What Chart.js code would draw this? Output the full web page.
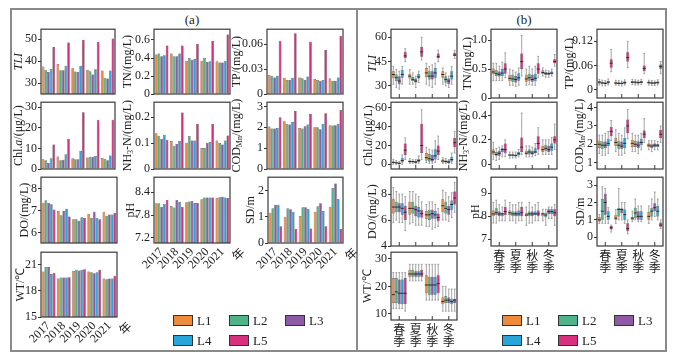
<!DOCTYPE html>
<html>
<head>
<meta charset="utf-8">
<script src="https://cdn.jsdelivr.net/npm/chart.js@4.4.0/dist/chart.umd.min.js"></script>
<style>
  body { margin:0; width:675px; height:361px; position:relative; overflow:hidden; background:#fff; font-family:"Liberation Serif", serif; color:#222; }
  canvas { position:absolute; }
  .outer { position:absolute; left:10px; top:8px; width:657px; height:344px; box-sizing:border-box; border:2px solid #8a8a8a; }
  .divider { position:absolute; left:356px; top:8px; width:2px; height:344px; background:#8a8a8a; }
  .ptitle { position:absolute; font-size:13px; color:#222; transform:translateX(-50%); }
  .sw { position:absolute; width:20px; height:11px; box-sizing:border-box; border:1px solid #333; }
  .lt { position:absolute; font-size:13px; line-height:13px; color:#222; }
</style>
</head>
<body>
<div class="outer"></div>
<div class="divider"></div>
<div class="ptitle" style="left:192px;top:12px">(a)</div>
<div class="ptitle" style="left:524px;top:12px">(b)</div>
<script>
// categories and series
const years = ['2017', '2018', '2019', '2020', '2021'];
const seasons = [['春', '季'], ['夏', '季'], ['秋', '季'], ['冬', '季']];
const locs = ['L1', 'L2', 'L3', 'L4', 'L5'];
const colors = ['#EE8A3C', '#4FB38A', '#8E5AA5', '#2AA5DB', '#D6307F'];

// (a) yearly means, one row per site (L1..L5), one value per year
const tliA = [[37.5, 38.7, 36.7, 36.0, 35.7], [36.0, 35.8, 35.2, 35.4, 32.4], [35.0, 35.8, 35.0, 33.9, 32.1], [36.4, 37.9, 37.9, 36.3, 35.7], [46.4, 48.4, 49.7, 48.7, 50.3]];
const tnA = [[0.44, 0.45, 0.37, 0.37, 0.365], [0.45, 0.42, 0.40, 0.40, 0.35], [0.42, 0.42, 0.38, 0.355, 0.35], [0.43, 0.45, 0.39, 0.365, 0.37], [0.54, 0.54, 0.555, 0.59, 0.66]];
const tpA = [[0.023, 0.0196, 0.020, 0.018, 0.019], [0.022, 0.017, 0.019, 0.017, 0.016], [0.020, 0.017, 0.017, 0.016, 0.016], [0.022, 0.0196, 0.021, 0.017, 0.020], [0.064, 0.073, 0.063, 0.053, 0.070]];
const chlA = [[4.7, 6.1, 5.2, 5.6, 5.3], [4.2, 4.2, 4.7, 6.0, 4.8], [2.9, 4.5, 4.7, 6.0, 4.2], [5.2, 7.1, 8.7, 6.3, 6.6], [11.9, 14.5, 27.5, 23.9, 23.9]];
const nh3A = [[0.138, 0.108, 0.101, 0.081, 0.110], [0.128, 0.090, 0.127, 0.081, 0.100], [0.117, 0.097, 0.110, 0.101, 0.095], [0.132, 0.108, 0.110, 0.104, 0.110], [0.113, 0.218, 0.174, 0.174, 0.129]];
const codA = [[2.03, 2.29, 1.97, 2.0, 2.1], [1.94, 2.16, 1.94, 2.0, 2.08], [1.94, 2.13, 2.05, 1.9, 2.1], [1.97, 2.25, 2.13, 2.16, 2.16], [2.48, 2.78, 2.63, 2.67, 2.83]];
const doA = [[7.35, 6.98, 6.62, 6.85, 6.95], [7.47, 6.79, 6.62, 6.68, 6.77], [7.35, 6.98, 6.55, 6.95, 6.83], [7.29, 7.08, 6.7, 6.67, 6.83], [7.05, 6.74, 6.67, 6.62, 6.9]];
const phA = [[8.11, 8.04, 8.14, 8.22, 8.25], [8.11, 8.0, 8.16, 8.26, 8.27], [8.02, 8.2, 8.17, 8.26, 8.28], [8.09, 8.15, 8.12, 8.26, 8.26], [8.2, 8.02, 8.12, 8.26, 8.25]];
const sdA = [[1.15, 1.0, 1.03, 1.19, 1.38], [1.32, 1.32, 1.36, 1.4, 2.09], [1.45, 1.28, 1.36, 1.51, 2.26], [1.45, 1.19, 1.29, 1.22, 1.67], [0.64, 0.53, 0.55, 0.64, 0.53]];
const wtA = [[20.2, 19.4, 20.24, 20.2, 19.4], [20.7, 19.5, 20.4, 20.1, 19.3], [20.7, 19.5, 20.3, 20.0, 19.4], [19.9, 19.5, 20.4, 20.1, 19.4], [20.05, 19.55, 20.45, 20.4, 19.7]];

// (b) seasonal box stats per site: [min, q1, median, q3, max] for spring..winter
const tliB = [
  [[31, 35, 37, 39, 42], [31, 34.5, 36, 37.5, 40], [31, 35.5, 38, 41, 44], [31, 35, 37, 39, 41]],
  [[29, 33, 35, 37, 40], [31, 33, 34, 35.5, 38], [30, 34, 36, 39, 42], [30, 32, 34, 36, 38]],
  [[28, 31, 33, 36, 39], [29, 32, 33, 34.5, 36], [29, 34, 36, 39, 43], [29, 31, 33, 34.5, 36]],
  [[31, 35, 37, 40, 42], [32, 34.5, 35.5, 37.5, 39], [31, 35, 38, 41, 44], [31, 34, 36, 39, 42]],
  [[45, 47, 48.5, 51, 53], [46, 48, 51, 54, 60], [45, 47, 48, 50, 52], [47, 48.5, 49, 50.5, 52]]];
const tnB = [
  [[0.3, 0.41, 0.45, 0.51, 0.6], [0.22, 0.29, 0.34, 0.4, 0.5], [0.22, 0.28, 0.33, 0.4, 0.5], [0.38, 0.42, 0.44, 0.48, 0.52]],
  [[0.3, 0.38, 0.42, 0.48, 0.6], [0.22, 0.28, 0.33, 0.4, 0.48], [0.23, 0.3, 0.35, 0.42, 0.55], [0.36, 0.4, 0.42, 0.45, 0.48]],
  [[0.3, 0.37, 0.41, 0.46, 0.55], [0.2, 0.27, 0.32, 0.38, 0.45], [0.22, 0.28, 0.32, 0.4, 0.5], [0.36, 0.4, 0.42, 0.44, 0.47]],
  [[0.3, 0.38, 0.43, 0.5, 0.62], [0.22, 0.3, 0.35, 0.43, 0.52], [0.22, 0.29, 0.34, 0.42, 0.55], [0.38, 0.41, 0.43, 0.46, 0.5]],
  [[0.35, 0.42, 0.5, 0.6, 0.78], [0.38, 0.5, 0.63, 0.77, 1.08], [0.35, 0.42, 0.5, 0.6, 0.72], [0.55, 0.6, 0.63, 0.67, 0.75]]];
const tpB = [
  [[0.012, 0.016, 0.019, 0.022, 0.026], [0.012, 0.015, 0.017, 0.02, 0.024], [0.013, 0.017, 0.019, 0.022, 0.026], [0.012, 0.016, 0.018, 0.021, 0.024]],
  [[0.01, 0.015, 0.017, 0.02, 0.024], [0.011, 0.014, 0.016, 0.019, 0.023], [0.012, 0.016, 0.019, 0.021, 0.025], [0.011, 0.015, 0.017, 0.02, 0.023]],
  [[0.01, 0.014, 0.016, 0.019, 0.023], [0.01, 0.014, 0.016, 0.018, 0.022], [0.012, 0.016, 0.018, 0.021, 0.024], [0.011, 0.015, 0.017, 0.019, 0.022]],
  [[0.012, 0.016, 0.019, 0.022, 0.027], [0.012, 0.015, 0.018, 0.021, 0.025], [0.013, 0.017, 0.019, 0.022, 0.026], [0.012, 0.016, 0.018, 0.021, 0.025]],
  [[0.045, 0.055, 0.066, 0.076, 0.1], [0.055, 0.07, 0.08, 0.093, 0.12], [0.04, 0.047, 0.053, 0.06, 0.09], [0.04, 0.052, 0.058, 0.063, 0.07]]];
const chlB = [
  [[0, 1, 2, 3, 5], [1, 2, 3, 4, 6], [2, 4, 7, 12, 18], [1, 2, 3.5, 5, 7]],
  [[0, 0.8, 1.5, 2.5, 4], [1, 2, 3, 3.5, 5], [1, 3, 6, 11, 16], [1, 2, 3, 4, 6]],
  [[0, 0.5, 1, 2, 3], [0.5, 1.5, 2.5, 3.5, 5], [1, 3, 5, 10, 15], [0.5, 1.5, 2.5, 4, 5]],
  [[0, 2, 4, 7, 10], [1, 2.5, 4, 6, 9], [2, 5, 9, 16, 25], [1, 3, 5, 8, 12]],
  [[5, 10, 15, 22, 28], [5, 12, 20, 43, 58], [5, 10, 14, 20, 30], [12, 18, 23, 28, 35]]];
const nh3B = [
  [[0.04, 0.08, 0.1, 0.12, 0.18], [0.05, 0.07, 0.075, 0.08, 0.1], [0.06, 0.08, 0.09, 0.11, 0.15], [0.08, 0.1, 0.12, 0.15, 0.2]],
  [[0.03, 0.07, 0.08, 0.1, 0.13], [0.05, 0.065, 0.075, 0.08, 0.1], [0.06, 0.08, 0.1, 0.12, 0.15], [0.08, 0.11, 0.13, 0.16, 0.2]],
  [[0.04, 0.07, 0.09, 0.11, 0.14], [0.05, 0.065, 0.07, 0.08, 0.1], [0.06, 0.08, 0.09, 0.11, 0.14], [0.08, 0.1, 0.12, 0.15, 0.2]],
  [[0.06, 0.1, 0.12, 0.13, 0.15], [0.06, 0.075, 0.085, 0.1, 0.12], [0.07, 0.09, 0.1, 0.13, 0.17], [0.08, 0.11, 0.14, 0.17, 0.22]],
  [[0.06, 0.09, 0.12, 0.17, 0.2], [0.08, 0.1, 0.14, 0.22, 0.42], [0.08, 0.12, 0.17, 0.23, 0.3], [0.12, 0.17, 0.2, 0.23, 0.33]]];
const codB = [
  [[1.5, 1.8, 2, 2.2, 2.5], [1.6, 1.9, 2.1, 2.35, 2.8], [1.6, 1.85, 2.05, 2.25, 2.6], [1.7, 1.85, 1.95, 2.05, 2.2]],
  [[1.4, 1.75, 1.95, 2.15, 2.5], [1.4, 1.75, 1.95, 2.2, 2.6], [1.6, 1.85, 2.0, 2.2, 2.5], [1.6, 1.8, 1.9, 2.0, 2.2]],
  [[1.4, 1.8, 1.95, 2.15, 2.6], [1.4, 1.75, 1.9, 2.15, 2.5], [1.5, 1.8, 1.95, 2.15, 2.5], [1.7, 1.85, 1.95, 2.05, 2.2]],
  [[1.5, 1.9, 2.05, 2.3, 2.7], [1.5, 1.8, 2.05, 2.35, 2.9], [1.7, 1.95, 2.1, 2.3, 2.6], [1.7, 1.85, 1.95, 2.0, 2.15]],
  [[2.2, 2.45, 2.7, 2.95, 3.3], [2.3, 2.6, 3.0, 3.35, 3.9], [2.1, 2.35, 2.55, 2.75, 3.4], [2.1, 2.35, 2.55, 2.8, 3.0]]];
const doB = [
  [[5.8, 6.5, 7.0, 7.6, 8.5], [5.7, 6.4, 6.9, 7.4, 8.2], [5.5, 6.1, 6.4, 6.7, 7.2], [6, 6.6, 7.1, 7.6, 8.3]],
  [[6, 6.6, 7.0, 7.4, 8.2], [5.8, 6.5, 6.9, 7.4, 8.2], [5.5, 6.0, 6.4, 6.8, 7.4], [6, 6.5, 6.9, 7.4, 8.1]],
  [[5.8, 6.6, 7.0, 7.3, 8], [5.6, 6.3, 6.8, 7.1, 8.0], [5.3, 6.1, 6.5, 6.8, 7.4], [5.9, 6.4, 6.8, 7.1, 7.8]],
  [[5.8, 6.4, 6.9, 7.3, 8], [5.6, 6.2, 6.7, 7.0, 7.8], [5.4, 6.1, 6.4, 6.7, 7.2], [6.2, 6.8, 7.2, 7.5, 8.1]],
  [[5.2, 6.0, 6.6, 7.1, 7.8], [5.6, 6.2, 6.5, 6.8, 7.4], [5.5, 5.9, 6.2, 6.5, 6.9], [6.6, 7.2, 7.7, 8.2, 8.9]]];
const phB = [
  [[7.7, 8.0, 8.1, 8.25, 8.6], [7.8, 8.05, 8.15, 8.25, 8.6], [7.6, 8.0, 8.05, 8.15, 8.4], [7.8, 8.0, 8.1, 8.15, 8.3]],
  [[7.7, 8.05, 8.15, 8.35, 8.7], [7.8, 8.0, 8.1, 8.2, 8.5], [7.7, 8.0, 8.1, 8.2, 8.6], [7.6, 7.95, 8.05, 8.15, 8.3]],
  [[7.8, 8.0, 8.1, 8.2, 8.5], [7.7, 8.0, 8.1, 8.2, 8.5], [7.7, 8.0, 8.1, 8.2, 8.4], [7.9, 8.1, 8.2, 8.3, 8.4]],
  [[7.8, 8.0, 8.1, 8.15, 8.4], [7.8, 8.0, 8.1, 8.25, 8.6], [7.8, 8.05, 8.1, 8.2, 8.5], [7.9, 8.1, 8.2, 8.3, 8.4]],
  [[7.8, 8.05, 8.2, 8.4, 8.7], [7.8, 8.0, 8.15, 8.4, 8.6], [7.8, 8.0, 8.1, 8.25, 8.6], [7.6, 8.0, 8.15, 8.3, 8.5]]];
const sdB = [
  [[0.8, 0.9, 1.0, 1.15, 1.3], [0.8, 1.0, 1.1, 1.3, 1.6], [0.9, 1.0, 1.1, 1.15, 1.5], [0.8, 1.0, 1.2, 1.45, 1.8]],
  [[0.8, 1.0, 1.5, 2.2, 2.9], [1.0, 1.2, 1.6, 1.7, 2.8], [1.0, 1.1, 1.4, 1.7, 2.2], [1.0, 1.2, 1.5, 1.7, 2.2]],
  [[0.8, 1.3, 2.0, 2.5, 2.8], [1.0, 1.4, 1.6, 1.65, 2.0], [0.9, 1.0, 1.2, 1.5, 1.8], [1.2, 1.5, 1.7, 1.95, 2.6]],
  [[0.8, 1.0, 1.2, 1.5, 1.7], [0.8, 1.0, 1.3, 1.6, 2.0], [0.9, 1.0, 1.2, 1.5, 1.8], [1.0, 1.2, 1.5, 1.8, 2.2]],
  [[0.3, 0.45, 0.55, 0.65, 0.7], [0.2, 0.35, 0.5, 0.8, 1.0], null, [0.5, 0.6, 0.7, 0.85, 1.0]]];
const wtB = [
  [[12, 14, 17, 23, 25], [22, 23.5, 24.5, 26, 28], [15, 17.5, 20.5, 24, 28], [11, 13.5, 14.5, 16, 20]],
  [[12, 14, 18, 23, 25], [22, 23.5, 24.5, 26, 28], [15, 17, 20.5, 23.5, 28], [11, 14, 15, 16.5, 20]],
  [[12, 13.5, 17.5, 22.5, 25], [22, 23.5, 24.5, 25.5, 28], [15, 17, 20.5, 23.5, 28], [11, 14, 15, 16, 19]],
  [[12, 13.5, 17.5, 22.5, 25], [22, 23.5, 24.5, 25.5, 28], [15, 17, 20.5, 23.5, 28], [11, 13.5, 14.5, 15.5, 19]],
  [[11, 13.5, 17.5, 23, 25], [22, 23.5, 24.5, 26, 28], [15, 17.5, 21, 24, 28], [11, 14, 15, 15.5, 19]]];

// tick labels
const tliTicksA = ['30', '40', '50'];
const tnTicksA = ['0', '0.2', '0.4', '0.6'];
const tpTicksA = ['0', '0.03', '0.06'];
const chlTicksA = ['0', '10', '20', '30'];
const nh3TicksA = ['0', '0.1', '0.2'];
const codTicksA = ['0', '1', '2', '3'];
const doTicksA = ['6', '7', '8'];
const phTicksA = ['7.2', '7.8', '8.4'];
const sdTicksA = ['0', '1', '2'];
const wtTicksA = ['15', '18', '21'];
const tliTicksB = ['30', '45', '60'];
const tnTicksB = ['0', '0.5', '1.0'];
const tpTicksB = ['0', '0.06', '0.12'];
const chlTicksB = ['0', '20', '40', '60'];
const nh3TicksB = ['0', '0.2', '0.4'];
const codTicksB = ['1', '2', '3', '4'];
const doTicksB = ['4', '6', '8'];
const phTicksB = ['7', '8', '9'];
const sdTicksB = ['0', '1', '2', '3'];
const wtTicksB = ['10', '20', '30'];

const serif = "'Liberation Serif', serif";

// draws rotated y title with italic / subscript pieces
function drawTitle(ctx, segs, cx, cy) {
  const f = s => (s[1] === 'i' ? 'italic ' : '') + (s[1] === 's' ? '8px ' : '12px ') + serif;
  ctx.save();
  ctx.translate(cx, cy);
  ctx.rotate(-Math.PI / 2);
  ctx.textBaseline = 'middle';
  ctx.textAlign = 'left';
  ctx.fillStyle = '#222';
  let w = 0;
  segs.forEach(s => { ctx.font = f(s); w += ctx.measureText(s[0]).width; });
  let x = -w / 2;
  segs.forEach(s => {
    ctx.font = f(s);
    ctx.fillText(s[0], x, s[1] === 's' ? 3 : 0);
    x += ctx.measureText(s[0]).width;
  });
  ctx.restore();
}

const panelPlugin = {
  id: 'panel',
  beforeDatasetsDraw(chart) {
    const o = chart.options.plugins.panel;
    if (!o.boxes) return;
    const ctx = chart.ctx, y = chart.scales.y;
    ctx.save();
    ctx.strokeStyle = '#8c8c8c';
    ctx.lineWidth = 0.8;
    o.boxes.forEach((ser, i) => {
      const meta = chart.getDatasetMeta(i);
      ser.forEach((b, j) => {
        if (!b) return;
        const el = meta.data[j], hw = el.width * 0.3;
        const lo = y.getPixelForValue(b[0]), hi = y.getPixelForValue(b[4]);
        ctx.beginPath();
        ctx.moveTo(el.x, lo); ctx.lineTo(el.x, hi);
        ctx.moveTo(el.x - hw, lo); ctx.lineTo(el.x + hw, lo);
        ctx.moveTo(el.x - hw, hi); ctx.lineTo(el.x + hw, hi);
        ctx.stroke();
      });
    });
    ctx.restore();
  },
  afterDatasetsDraw(chart) {
    const o = chart.options.plugins.panel;
    if (!o.boxes) return;
    const ctx = chart.ctx, y = chart.scales.y;
    ctx.save();
    ctx.strokeStyle = '#2a2a2a';
    ctx.lineWidth = 1;
    o.boxes.forEach((ser, i) => {
      const meta = chart.getDatasetMeta(i);
      ser.forEach((b, j) => {
        if (!b) return;
        const el = meta.data[j], m = y.getPixelForValue(b[2]);
        ctx.beginPath();
        ctx.moveTo(el.x - el.width / 2, m); ctx.lineTo(el.x + el.width / 2, m);
        ctx.stroke();
      });
    });
    ctx.restore();
  },
  afterDraw(chart) {
    const o = chart.options.plugins.panel;
    const ctx = chart.ctx, a = chart.chartArea;
    ctx.save();
    ctx.strokeStyle = '#3a3a3a';
    ctx.lineWidth = 1.2;
    ctx.strokeRect(a.left, a.top, a.right - a.left, a.bottom - a.top);
    if (o.boxes) {
      // inward x tick marks
      const xs = chart.scales.x;
      ctx.lineWidth = 1;
      ctx.beginPath();
      xs.ticks.forEach((t, i) => {
        const px = xs.getPixelForTick(i);
        ctx.moveTo(px, a.bottom); ctx.lineTo(px, a.bottom - 4);
      });
      ctx.stroke();
    }
    ctx.restore();
    drawTitle(ctx, o.title, a.left - o.off, (a.top + a.bottom) / 2);
    if (o.nian) {
      ctx.save();
      ctx.translate(a.right + 8, a.bottom + 11);
      ctx.rotate(-Math.PI / 4);
      ctx.font = "12px 'Noto Sans CJK SC'";
      ctx.fillStyle = '#222';
      ctx.textAlign = 'center';
      ctx.textBaseline = 'middle';
      ctx.fillText('年', 0, 0);
      ctx.restore();
    }
  }
};

function makeChart(d) {
  const box = d.kind === 'box';
  const L = 46, T = 8;
  const B = d.xlab ? (box ? 30 : 34) : 10;
  const R = d.nian ? 22 : 4;
  const [x0, y0, x1, y1] = d.r;
  const c = document.createElement('canvas');
  c.width = x1 - x0 + L + R;
  c.height = y1 - y0 + T + B;
  c.style.left = (x0 - L) + 'px';
  c.style.top = (y0 - T) + 'px';
  document.body.appendChild(c);
  const tv = d.ticks.map(parseFloat);
  new Chart(c, {
    type: 'bar',
    data: {
      labels: box ? seasons : years,
      datasets: locs.map((n, i) => ({
        label: n,
        data: box ? d.data[i].map(b => b ? [b[1], b[3]] : null) : d.data[i],
        backgroundColor: colors[i],
        borderColor: '#3a3a3a',
        borderWidth: 0.5,
        borderSkipped: false,
        categoryPercentage: box ? 0.9 : 0.9,
        barPercentage: 1
      }))
    },
    options: {
      responsive: false,
      animation: false,
      devicePixelRatio: 1,
      layout: { padding: { left: 0, top: T, right: R, bottom: 0 } },
      plugins: {
        legend: { display: false },
        tooltip: { enabled: false },
        panel: { boxes: box ? d.data : null, title: d.title, off: d.off, nian: d.nian }
      },
      scales: {
        x: {
          grid: { display: false, drawTicks: false },
          border: { display: false },
          ticks: {
            display: !!d.xlab,
            autoSkip: false,
            maxRotation: box ? 0 : 45,
            minRotation: box ? 0 : 45,
            padding: box ? 4 : 2,
            color: '#222',
            font: box ? { family: "'Noto Sans CJK SC'", size: 12, lineHeight: 0.95 } : { family: serif, size: 12 }
          },
          afterFit: s => { s.height = B; }
        },
        y: {
          min: d.min,
          max: d.max,
          grid: { drawOnChartArea: false, tickLength: 3, color: '#333' },
          border: { display: false },
          ticks: { color: '#222', padding: 1, font: { family: serif, size: 12 }, callback: (v, i) => d.ticks[i] },
          afterBuildTicks: s => { s.ticks = tv.map(v => ({ value: v })); },
          afterFit: s => { s.width = L; }
        }
      }
    },
    plugins: [panelPlugin]
  });
}

// panel (a)
makeChart({ kind: 'bar', r: [41, 29, 115, 94], data: tliA, ticks: tliTicksA, min: 25, max: 54.5, title: [['TLI', 'i']], off: 22 });
makeChart({ kind: 'bar', r: [154, 29, 230, 94], data: tnA, ticks: tnTicksA, min: 0, max: 0.72, title: [['TN/(mg/L)', '']], off: 26 });
makeChart({ kind: 'bar', r: [267, 29, 343, 94], data: tpA, ticks: tpTicksA, min: 0, max: 0.078, title: [['TP/(mg/L)', '']], off: 30 });
makeChart({ kind: 'bar', r: [41, 102, 115, 169], data: chlA, ticks: chlTicksA, min: 0, max: 32.4, title: [['Chl.', ''], ['a', 'i'], ['/(μg/L)', '']], off: 22 });
makeChart({ kind: 'bar', r: [154, 102, 230, 169], data: nh3A, ticks: nh3TicksA, min: 0, max: 0.258, title: [['NH', ''], ['3', 's'], ['-N/(mg/L)', '']], off: 26 });
makeChart({ kind: 'bar', r: [267, 102, 343, 169], data: codA, ticks: codTicksA, min: 0, max: 3.2, title: [['COD', ''], ['Mn', 's'], ['/(mg/L)', '']], off: 30 });
makeChart({ kind: 'bar', r: [41, 177, 117, 243], data: doA, ticks: doTicksA, min: 5.55, max: 8.5, title: [['DO/(mg/L)', '']], off: 16 });
makeChart({ kind: 'bar', r: [154, 177, 230, 243], data: phA, ticks: phTicksA, min: 7.06, max: 8.8, title: [['pH', '']], off: 23, xlab: true, nian: true });
makeChart({ kind: 'bar', r: [268, 177, 343, 243], data: sdA, ticks: sdTicksA, min: 0, max: 2.5, title: [['SD/m', '']], off: 17, xlab: true, nian: true });
makeChart({ kind: 'bar', r: [41, 252, 117, 317], data: wtA, ticks: wtTicksA, min: 15, max: 22.4, title: [['WT/℃', '']], off: 20, xlab: true, nian: true });

// panel (b)
makeChart({ kind: 'box', r: [391, 29, 457, 98], data: tliB, ticks: tliTicksB, min: 22.5, max: 65, title: [['TLI', 'i']], off: 18 });
makeChart({ kind: 'box', r: [491, 29, 557, 98], data: tnB, ticks: tnTicksB, min: 0, max: 1.19, title: [['TN/(mg/L)', '']], off: 23 });
makeChart({ kind: 'box', r: [597, 29, 663, 98], data: tpB, ticks: tpTicksB, min: -0.02, max: 0.15, title: [['TP/(mg/L)', '']], off: 27 });
makeChart({ kind: 'box', r: [391, 102, 457, 169], data: chlB, ticks: chlTicksB, min: -5, max: 66, title: [['Chl.', ''], ['a', 'i'], ['/(μg/L)', '']], off: 22 });
makeChart({ kind: 'box', r: [491, 102, 557, 169], data: nh3B, ticks: nh3TicksB, min: -0.04, max: 0.51, title: [['NH', ''], ['3', 's'], ['-N/(mg/L)', '']], off: 27 });
makeChart({ kind: 'box', r: [597, 102, 663, 169], data: codB, ticks: codTicksB, min: 0.65, max: 4.3, title: [['COD', ''], ['Mn', 's'], ['/(mg/L)', '']], off: 17 });
makeChart({ kind: 'box', r: [391, 177, 457, 246], data: doB, ticks: doTicksB, min: 4, max: 9.3, title: [['DO/(mg/L)', '']], off: 18 });
makeChart({ kind: 'box', r: [491, 177, 557, 246], data: phB, ticks: phTicksB, min: 6.7, max: 9.7, title: [['pH', '']], off: 15, xlab: true });
makeChart({ kind: 'box', r: [597, 177, 663, 246], data: sdB, ticks: sdTicksB, min: -0.5, max: 3.45, title: [['SD/m', '']], off: 16, xlab: true });
makeChart({ kind: 'box', r: [391, 252, 457, 320], data: wtB, ticks: wtTicksB, min: 7.8, max: 32.4, title: [['WT/℃', '']], off: 23, xlab: true });

// legends
function legend(xs, rows) {
  locs.forEach((n, i) => {
    const col = i % 3, row = Math.floor(i / 3);
    const sw = document.createElement('div');
    sw.className = 'sw';
    sw.style.left = xs[col] + 'px';
    sw.style.top = rows[row] + 'px';
    sw.style.background = colors[i];
    document.body.appendChild(sw);
    const t = document.createElement('div');
    t.className = 'lt';
    t.textContent = n;
    t.style.left = (xs[col] + 24) + 'px';
    t.style.top = (rows[row] - 1) + 'px';
    document.body.appendChild(t);
  });
}
legend([173, 229, 285], [315, 335]);
legend([502, 558, 614], [315, 335]);
</script>
</body>
</html>
